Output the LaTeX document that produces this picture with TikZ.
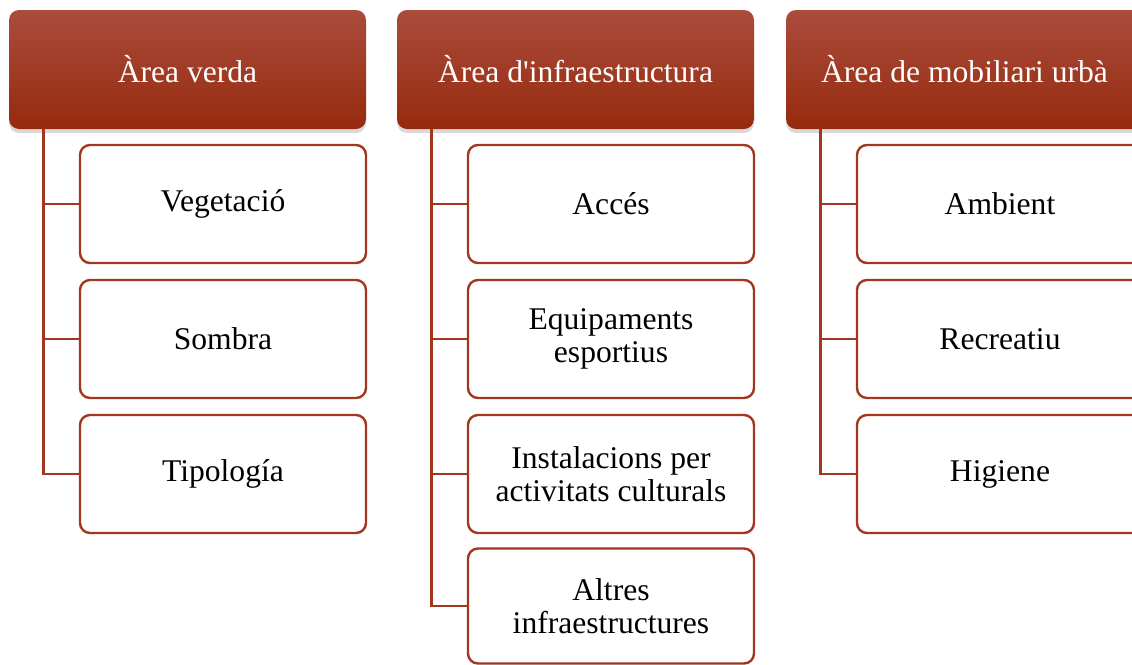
\documentclass[tikz,border=0pt]{standalone}
\usepackage{fontspec}
\setmainfont{Liberation Serif}
\usetikzlibrary{shadows}

\definecolor{brickdark}{RGB}{150,42,14}
\definecolor{bricklight}{RGB}{170,76,60}
\definecolor{brickline}{RGB}{162,54,30}

\tikzset{
	area/.style={rounded corners=5pt, minimum width=178.5pt, minimum height=59.5pt,
		top color=bricklight, bottom color=brickdark, text=white,
		font=\fontsize{15.8}{16.5}\selectfont,
		drop shadow={shadow xshift=0pt, shadow yshift=-2pt, opacity=0.3}},
	item/.style={draw=brickline, line width=1.2pt, fill=white, rounded corners=5pt,
		minimum width=143pt, minimum height=59pt, align=center,
		font=\fontsize{15.8}{16.5}\selectfont},
	link/.style={draw=brickline, line width=1.2pt}
}

\begin{document}
\begin{tikzpicture}[x=0.5pt, y=-0.5pt]
	\useasboundingbox (0, 0) rectangle (1132, 665);
	\clip (0, 0) rectangle (1132, 665);

	% headers
	\node[area] (verda) at (187.5, 69.5) {Àrea verda};
	\node[area] (infra) at (575.5, 69.5) {Àrea d\textquotesingle infraestructura};
	\node[area] (mobil) at (964.5, 69.5) {Àrea de mobiliari urbà};

	% first column
	\node[item] (veg) at (223, 204) {Vegetació};
	\node[item] (sombra) at (223, 339) {Sombra};
	\node[item] (tipo) at (223, 474) {Tipología};

	% second column
	\node[item] (acces) at (611, 204) {Accés};
	\node[item] (equip) at (611, 339) {Equipaments\\esportius};
	\node[item] (cult) at (611, 474) {Instalacions per\\activitats culturals};
	\node[item, minimum height=57.5pt] (altres) at (611, 606) {Altres\\infraestructures};

	% third column
	\node[item] (ambient) at (1000, 204) {Ambient};
	\node[item] (recre) at (1000, 339) {Recreatiu};
	\node[item] (higiene) at (1000, 474) {Higiene};

	% links
	\draw[link] ([xshift=17.5pt]verda.south west) |- (veg.west);
	\draw[link] ([xshift=17.5pt]verda.south west) |- (sombra.west);
	\draw[link] ([xshift=17.5pt]verda.south west) |- (tipo.west);
	\draw[link] ([xshift=17.5pt]infra.south west) |- (acces.west);
	\draw[link] ([xshift=17.5pt]infra.south west) |- (equip.west);
	\draw[link] ([xshift=17.5pt]infra.south west) |- (cult.west);
	\draw[link] ([xshift=17.5pt]infra.south west) |- (altres.west);
	\draw[link] ([xshift=17.5pt]mobil.south west) |- (ambient.west);
	\draw[link] ([xshift=17.5pt]mobil.south west) |- (recre.west);
	\draw[link] ([xshift=17.5pt]mobil.south west) |- (higiene.west);
\end{tikzpicture}
\end{document}
